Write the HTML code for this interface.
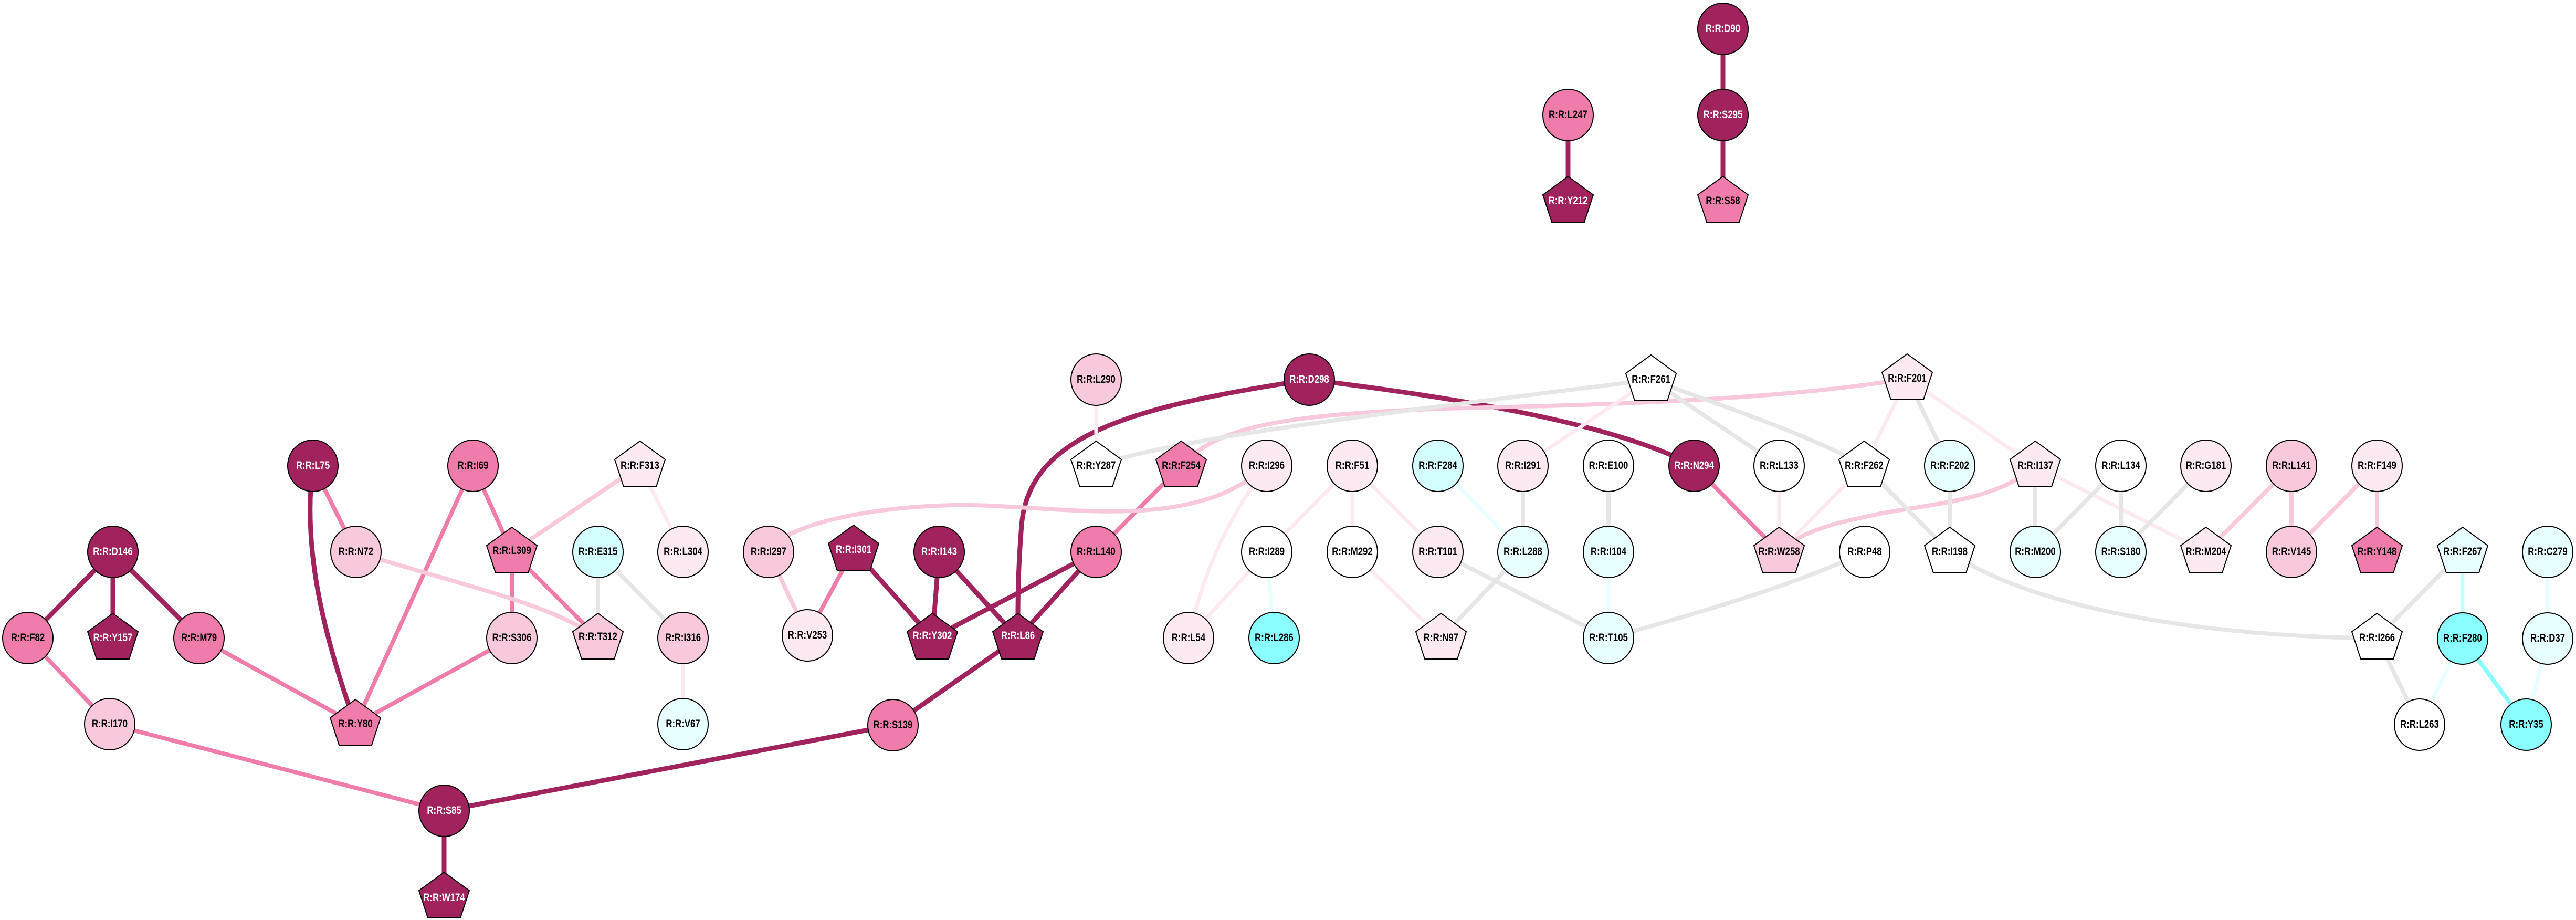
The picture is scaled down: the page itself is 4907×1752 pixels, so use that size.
<!DOCTYPE html>
<html><head><meta charset="utf-8"><style>
html,body{margin:0;padding:0;background:#fff;}
svg{display:block;}
text{font-family:"Liberation Sans",sans-serif;font-weight:bold;font-size:21px;text-anchor:middle;dominant-baseline:central;transform-box:fill-box;transform-origin:center;transform:scaleX(0.8);}
.w{fill:#fff;}
.k{fill:#000;}
</style></head><body>
<svg width="4907" height="1752" viewBox="0 0 4907 1752" xmlns="http://www.w3.org/2000/svg">
<g fill="none" stroke-linecap="butt">
<!-- dark edges -->
<g stroke="#A0235E" stroke-width="9">
<line x1="3282" y1="55" x2="3282" y2="219"/>
<line x1="3282" y1="219" x2="3282" y2="383"/>
<line x1="2987" y1="219" x2="2987" y2="383"/>
<line x1="215" y1="1051" x2="53" y2="1215"/>
<line x1="215" y1="1051" x2="215" y2="1215"/>
<line x1="215" y1="1051" x2="379" y2="1215"/>
<path d="M596 887 C 575 1050, 620 1220, 677 1379"/>
<line x1="846" y1="1544" x2="846" y2="1708"/>
<line x1="846" y1="1544" x2="1701" y2="1381"/>
<line x1="1701" y1="1381" x2="1939" y2="1215"/>
<line x1="1626" y1="1047" x2="1776" y2="1215"/>
<line x1="1789" y1="1051" x2="1776" y2="1215"/>
<line x1="1789" y1="1051" x2="1939" y2="1215"/>
<line x1="2088" y1="1051" x2="1776" y2="1215"/>
<line x1="2088" y1="1051" x2="1939" y2="1215"/>
<path d="M2494 723 C 2150 775, 1960 830, 1946 1000 C 1938 1100, 1939 1160, 1939 1215"/>
<path d="M2494 723 C 2800 760, 3080 810, 3227 887"/>
</g>
<!-- mid pink -->
<g stroke="#F07CAB" stroke-width="8">
<line x1="53" y1="1215" x2="209" y2="1379"/>
<line x1="379" y1="1215" x2="677" y2="1379"/>
<line x1="596" y1="887" x2="678" y2="1051"/>
<line x1="901" y1="887" x2="677" y2="1379"/>
<line x1="901" y1="887" x2="975" y2="1051"/>
<line x1="975" y1="1051" x2="975" y2="1215"/>
<line x1="975" y1="1051" x2="1139" y2="1215"/>
<line x1="975" y1="1215" x2="677" y2="1379"/>
<line x1="209" y1="1379" x2="846" y2="1544"/>
<line x1="1538" y1="1210" x2="1626" y2="1047"/>
<line x1="2250" y1="887" x2="2088" y2="1051"/>
<line x1="3227" y1="887" x2="3389" y2="1051"/>
</g>
<!-- light pink -->
<g stroke="#F8C8DC" stroke-width="8">
<line x1="1219" y1="887" x2="975" y2="1051"/>
<path d="M678 1051 C 880 1115, 1050 1150, 1139 1215"/>
<line x1="1464" y1="1051" x2="1538" y2="1210"/>
<path d="M1464 1051 C 1500 990, 1700 960, 1850 962 C 2000 964, 2200 1000, 2340 935 C 2380 915, 2400 900, 2413 887"/>
<path d="M2250 887 C 2320 810, 2450 790, 2750 778 C 3100 770, 3400 760, 3633 721"/>
<path d="M3877 887 C 3800 960, 3650 960, 3550 985 C 3450 1005, 3410 1030, 3389 1051"/>
<line x1="4365" y1="887" x2="4202" y2="1051"/>
<line x1="4365" y1="887" x2="4365" y2="1051"/>
<line x1="4528" y1="887" x2="4365" y2="1051"/>
<line x1="4528" y1="887" x2="4528" y2="1051"/>
</g>
<!-- very light pink -->
<g stroke="#FCE9F1" stroke-width="7">
<line x1="1219" y1="887" x2="1301" y2="1051"/>
<line x1="1301" y1="1215" x2="1301" y2="1379"/>
<line x1="2088" y1="723" x2="2088" y2="887"/>
<line x1="3145" y1="723" x2="2901" y2="887"/>
<path d="M2413 887 C 2330 1000, 2290 1100, 2264 1215"/>
<line x1="2576" y1="887" x2="2413" y2="1051"/>
<line x1="2576" y1="887" x2="2576" y2="1051"/>
<line x1="2576" y1="887" x2="2739" y2="1051"/>
<line x1="2413" y1="1051" x2="2264" y2="1215"/>
<line x1="2576" y1="1051" x2="2745" y2="1215"/>
<line x1="3389" y1="887" x2="3389" y2="1051"/>
<line x1="3633" y1="721" x2="3551" y2="887"/>
<line x1="3633" y1="721" x2="3877" y2="887"/>
<line x1="3551" y1="887" x2="3389" y2="1051"/>
<line x1="3877" y1="887" x2="4202" y2="1051"/>
</g>
<!-- gray -->
<g stroke="#E6E6E6" stroke-width="8">
<line x1="1139" y1="1051" x2="1139" y2="1215"/>
<line x1="1139" y1="1051" x2="1301" y2="1215"/>
<path d="M3145 723 C 2700 780, 2250 830, 2088 887"/>
<line x1="3145" y1="723" x2="3389" y2="887"/>
<path d="M3145 723 C 3300 780, 3450 830, 3551 887"/>
<line x1="2901" y1="887" x2="2901" y2="1051"/>
<line x1="3064" y1="887" x2="3064" y2="1051"/>
<line x1="2901" y1="1051" x2="2745" y2="1215"/>
<line x1="2739" y1="1051" x2="3064" y2="1215"/>
<path d="M3064 1215 C 3300 1150, 3450 1100, 3552 1051"/>
<line x1="3633" y1="721" x2="3714" y2="887"/>
<line x1="3551" y1="887" x2="3714" y2="1051"/>
<line x1="3714" y1="887" x2="3714" y2="1051"/>
<line x1="3877" y1="887" x2="3877" y2="1051"/>
<line x1="4040" y1="887" x2="3877" y2="1051"/>
<line x1="4040" y1="887" x2="4040" y2="1051"/>
<line x1="4202" y1="887" x2="4040" y2="1051"/>
<path d="M3714 1051 C 3900 1180, 4300 1215, 4528 1215"/>
<line x1="4691" y1="1051" x2="4528" y2="1215"/>
<line x1="4528" y1="1215" x2="4609" y2="1380"/>
</g>
<!-- cyan -->
<g stroke="#E8FFFF" stroke-width="7">
<line x1="2413" y1="1051" x2="2427" y2="1215"/>
<line x1="2739" y1="887" x2="2901" y2="1051"/>
<line x1="3064" y1="1051" x2="3064" y2="1215"/>
<line x1="4853" y1="1051" x2="4853" y2="1216"/>
<line x1="4691" y1="1216" x2="4609" y2="1380"/>
<line x1="4853" y1="1216" x2="4812" y2="1380"/>
</g>
<line x1="4691" y1="1051" x2="4691" y2="1216" stroke="#C4FFFF" stroke-width="7"/>
<line x1="4691" y1="1216" x2="4812" y2="1380" stroke="#8AFFFF" stroke-width="8"/>
</g>

<g stroke="#000" stroke-width="2">
<!-- dark circles -->
<g fill="#A0235E">
<ellipse cx="3282" cy="55" rx="48" ry="49"/>
<ellipse cx="3282" cy="219" rx="48" ry="49"/>
<ellipse cx="2494" cy="723" rx="48" ry="49"/>
<ellipse cx="596" cy="887" rx="48" ry="49"/>
<ellipse cx="215" cy="1051" rx="48" ry="49"/>
<ellipse cx="1789" cy="1051" rx="48" ry="49"/>
<ellipse cx="3227" cy="887" rx="48" ry="49"/>
<ellipse cx="846" cy="1544" rx="48" ry="49"/>
</g>
<g fill="#F07CAB">
<ellipse cx="2987" cy="219" rx="48" ry="49"/>
<ellipse cx="901" cy="887" rx="48" ry="49"/>
<ellipse cx="53" cy="1215" rx="48" ry="49"/>
<ellipse cx="379" cy="1215" rx="48" ry="49"/>
<ellipse cx="2088" cy="1051" rx="48" ry="49"/>
<ellipse cx="1701" cy="1381" rx="48" ry="49"/>
</g>
<g fill="#F8C8DC">
<ellipse cx="678" cy="1051" rx="48" ry="49"/>
<ellipse cx="975" cy="1215" rx="48" ry="49"/>
<ellipse cx="1301" cy="1215" rx="48" ry="49"/>
<ellipse cx="209" cy="1379" rx="48" ry="49"/>
<ellipse cx="1464" cy="1051" rx="48" ry="49"/>
<ellipse cx="2088" cy="723" rx="48" ry="49"/>
<ellipse cx="4365" cy="887" rx="48" ry="49"/>
<ellipse cx="4365" cy="1051" rx="48" ry="49"/>
</g>
<g fill="#FCE9F1">
<ellipse cx="1301" cy="1051" rx="48" ry="49"/>
<ellipse cx="1538" cy="1210" rx="48" ry="49"/>
<ellipse cx="2413" cy="887" rx="48" ry="49"/>
<ellipse cx="2576" cy="887" rx="48" ry="49"/>
<ellipse cx="2901" cy="887" rx="48" ry="49"/>
<ellipse cx="2739" cy="1051" rx="48" ry="49"/>
<ellipse cx="2264" cy="1215" rx="48" ry="49"/>
<ellipse cx="4202" cy="887" rx="48" ry="49"/>
<ellipse cx="4528" cy="887" rx="48" ry="49"/>
</g>
<g fill="#D4FFFF">
<ellipse cx="1139" cy="1051" rx="48" ry="49"/>
<ellipse cx="2739" cy="887" rx="48" ry="49"/>
</g>
<g fill="#E8FFFF">
<ellipse cx="1301" cy="1379" rx="48" ry="49"/>
<ellipse cx="2901" cy="1051" rx="48" ry="49"/>
<ellipse cx="3064" cy="1051" rx="48" ry="49"/>
<ellipse cx="3064" cy="1215" rx="48" ry="49"/>
<ellipse cx="3714" cy="887" rx="48" ry="49"/>
<ellipse cx="3877" cy="1051" rx="48" ry="49"/>
<ellipse cx="4040" cy="1051" rx="48" ry="49"/>
<ellipse cx="4853" cy="1051" rx="48" ry="49"/>
<ellipse cx="4853" cy="1216" rx="48" ry="49"/>
</g>
<g fill="#8AFFFF">
<ellipse cx="2427" cy="1215" rx="48" ry="49"/>
<ellipse cx="4691" cy="1216" rx="48" ry="49"/>
<ellipse cx="4812" cy="1380" rx="48" ry="49"/>
</g>
<g fill="#FFFFFF">
<ellipse cx="2413" cy="1051" rx="48" ry="49"/>
<ellipse cx="2576" cy="1051" rx="48" ry="49"/>
<ellipse cx="3064" cy="887" rx="48" ry="49"/>
<ellipse cx="3389" cy="887" rx="48" ry="49"/>
<ellipse cx="3552" cy="1051" rx="48" ry="49"/>
<ellipse cx="4040" cy="887" rx="48" ry="49"/>
<ellipse cx="4609" cy="1380" rx="48" ry="49"/>
</g>
</g>

<!-- pentagons -->
<defs><polygon id="p" points="0,-47 48,-12 31,40 -31,40 -48,-12"/></defs>
<g stroke="#000" stroke-width="2">
<use href="#p" x="2987" y="383" fill="#A0235E"/>
<use href="#p" x="3282" y="383" fill="#F07CAB"/>
<use href="#p" x="215" y="1215" fill="#A0235E"/>
<use href="#p" x="846" y="1708" fill="#A0235E"/>
<use href="#p" x="1626" y="1047" fill="#A0235E"/>
<use href="#p" x="1776" y="1215" fill="#A0235E"/>
<use href="#p" x="1939" y="1215" fill="#A0235E"/>
<use href="#p" x="677" y="1379" fill="#F07CAB"/>
<use href="#p" x="975" y="1051" fill="#F07CAB"/>
<use href="#p" x="2250" y="887" fill="#F07CAB"/>
<use href="#p" x="4528" y="1051" fill="#F07CAB"/>
<use href="#p" x="1139" y="1215" fill="#F8C8DC"/>
<use href="#p" x="3389" y="1051" fill="#F8C8DC"/>
<use href="#p" x="1219" y="887" fill="#FCE9F1"/>
<use href="#p" x="2745" y="1215" fill="#FCE9F1"/>
<use href="#p" x="3633" y="721" fill="#FCE9F1"/>
<use href="#p" x="3877" y="887" fill="#FCE9F1"/>
<use href="#p" x="4202" y="1051" fill="#FCE9F1"/>
<use href="#p" x="4691" y="1051" fill="#E8FFFF"/>
<use href="#p" x="2088" y="887" fill="#FFFFFF"/>
<use href="#p" x="3145" y="723" fill="#FFFFFF"/>
<use href="#p" x="3551" y="887" fill="#FFFFFF"/>
<use href="#p" x="3714" y="1051" fill="#FFFFFF"/>
<use href="#p" x="4528" y="1215" fill="#FFFFFF"/>
</g>

<!-- labels white -->
<g class="w">
<text x="3282" y="55">R:R:D90</text>
<text x="3282" y="219">R:R:S295</text>
<text x="2987" y="383">R:R:Y212</text>
<text x="2494" y="723">R:R:D298</text>
<text x="596" y="887">R:R:L75</text>
<text x="215" y="1051">R:R:D146</text>
<text x="1789" y="1051">R:R:I143</text>
<text x="3227" y="887">R:R:N294</text>
<text x="846" y="1544">R:R:S85</text>
<text x="215" y="1215">R:R:Y157</text>
<text x="846" y="1710">R:R:W174</text>
<text x="1626" y="1047">R:R:I301</text>
<text x="1776" y="1211">R:R:Y302</text>
<text x="1939" y="1211">R:R:L86</text>
</g>
<g class="k">
<text x="2987" y="219">R:R:L247</text>
<text x="3282" y="383">R:R:S58</text>
<text x="901" y="887">R:R:I69</text>
<text x="53" y="1215">R:R:F82</text>
<text x="379" y="1215">R:R:M79</text>
<text x="2088" y="1051">R:R:L140</text>
<text x="1701" y="1381">R:R:S139</text>
<text x="678" y="1051">R:R:N72</text>
<text x="975" y="1215">R:R:S306</text>
<text x="1301" y="1215">R:R:I316</text>
<text x="209" y="1379">R:R:I170</text>
<text x="1464" y="1051">R:R:I297</text>
<text x="2088" y="723">R:R:L290</text>
<text x="4365" y="887">R:R:L141</text>
<text x="4365" y="1051">R:R:V145</text>
<text x="1301" y="1051">R:R:L304</text>
<text x="1538" y="1210">R:R:V253</text>
<text x="2413" y="887">R:R:I296</text>
<text x="2576" y="887">R:R:F51</text>
<text x="2901" y="887">R:R:I291</text>
<text x="2739" y="1051">R:R:T101</text>
<text x="2264" y="1215">R:R:L54</text>
<text x="4202" y="887">R:R:G181</text>
<text x="4528" y="887">R:R:F149</text>
<text x="1139" y="1051">R:R:E315</text>
<text x="2739" y="887">R:R:F284</text>
<text x="1301" y="1379">R:R:V67</text>
<text x="2901" y="1051">R:R:L288</text>
<text x="3064" y="1051">R:R:I104</text>
<text x="3064" y="1215">R:R:T105</text>
<text x="3714" y="887">R:R:F202</text>
<text x="3877" y="1051">R:R:M200</text>
<text x="4040" y="1051">R:R:S180</text>
<text x="4853" y="1051">R:R:C279</text>
<text x="4853" y="1216">R:R:D37</text>
<text x="2427" y="1215">R:R:L286</text>
<text x="4691" y="1216">R:R:F280</text>
<text x="4812" y="1380">R:R:Y35</text>
<text x="2413" y="1051">R:R:I289</text>
<text x="2576" y="1051">R:R:M292</text>
<text x="3064" y="887">R:R:E100</text>
<text x="3389" y="887">R:R:L133</text>
<text x="3552" y="1051">R:R:P48</text>
<text x="4040" y="887">R:R:L134</text>
<text x="4609" y="1380">R:R:L263</text>
<text x="677" y="1379">R:R:Y80</text>
<text x="975" y="1049">R:R:L309</text>
<text x="2250" y="887">R:R:F254</text>
<text x="4528" y="1051">R:R:Y148</text>
<text x="1139" y="1213">R:R:T312</text>
<text x="3389" y="1051">R:R:W258</text>
<text x="1219" y="887">R:R:F313</text>
<text x="2745" y="1215">R:R:N97</text>
<text x="3633" y="721">R:R:F201</text>
<text x="3877" y="887">R:R:I137</text>
<text x="4202" y="1051">R:R:M204</text>
<text x="4691" y="1051">R:R:F267</text>
<text x="2088" y="887">R:R:Y287</text>
<text x="3145" y="723">R:R:F261</text>
<text x="3551" y="887">R:R:F262</text>
<text x="3714" y="1051">R:R:I198</text>
<text x="4528" y="1215">R:R:I266</text>
</g>
</svg>
</body></html>
